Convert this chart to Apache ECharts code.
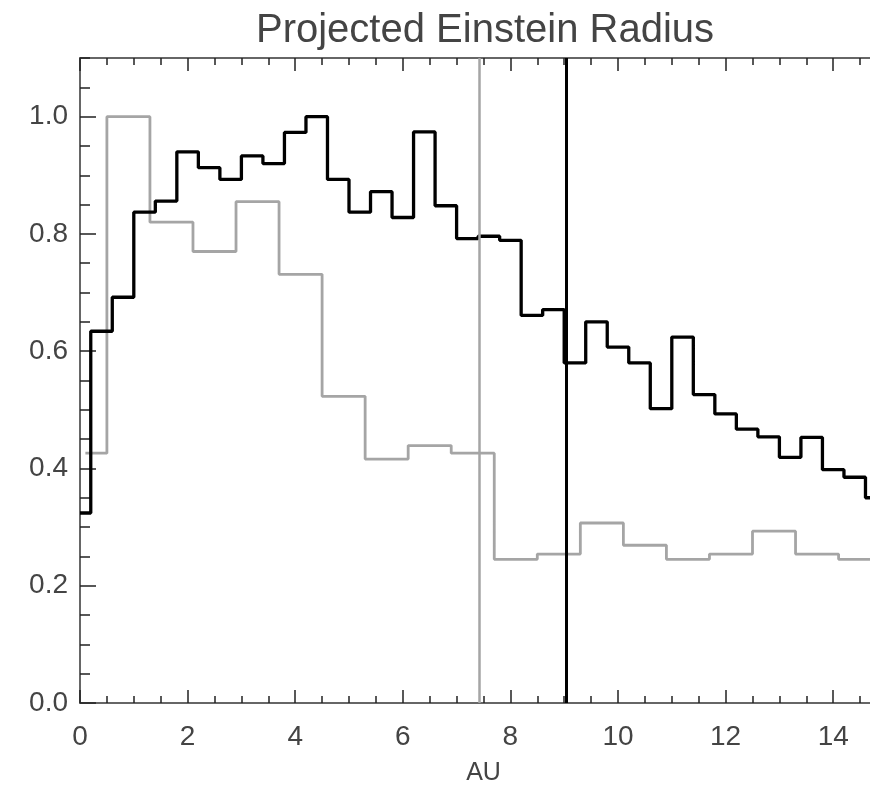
<!DOCTYPE html>
<html>
<head>
<meta charset="utf-8">
<script src="https://cdn.jsdelivr.net/npm/echarts@6/dist/echarts.min.js"></script>
<style>
  html, body { margin: 0; padding: 0; background: #ffffff; }
  #chart { width: 870px; height: 789px; }
</style>
</head>
<body>
<div id="chart"></div>
<script>
// Histogram of projected Einstein radius versus distance (AU), two samples
const titleText = 'Projected Einstein Radius';
const xAxisName = 'AU';

// Black histogram: bin centres (AU) and normalised values
const blackX = [0.0, 0.4, 0.8, 1.2, 1.6, 2.0, 2.4, 2.8, 3.2, 3.6,
                4.0, 4.4, 4.8, 5.2, 5.6, 6.0, 6.4, 6.8, 7.2, 7.6,
                8.0, 8.4, 8.8, 9.2, 9.6, 10.0, 10.4, 10.8, 11.2, 11.6,
                12.0, 12.4, 12.8, 13.2, 13.6, 14.0, 14.4, 14.8];
const blackY = [0.324, 0.634, 0.692, 0.837, 0.856, 0.940, 0.913, 0.893, 0.933, 0.920,
                0.973, 1.000, 0.893, 0.837, 0.872, 0.828, 0.974, 0.848, 0.792, 0.796,
                0.789, 0.661, 0.671, 0.580, 0.650, 0.607, 0.580, 0.502, 0.624, 0.526,
                0.493, 0.467, 0.454, 0.419, 0.453, 0.398, 0.385, 0.350];

// Grey histogram: bin centres (AU) and normalised values
const grayX = [0.1, 0.9, 1.7, 2.5, 3.3, 4.1, 4.9, 5.7, 6.5, 7.3,
               8.1, 8.9, 9.7, 10.5, 11.3, 12.1, 12.9, 13.7, 14.5, 15.3];
const grayY = [0.426, 1.000, 0.820, 0.770, 0.855, 0.731, 0.523, 0.416, 0.439, 0.426,
               0.245, 0.254, 0.307, 0.269, 0.245, 0.254, 0.293, 0.254, 0.245, 0.245];

// Vertical reference positions (AU)
const grayMarkerX = 7.43;
const blackMarkerX = 9.03;

// Axis ranges and tick spacing
const xMin = 0, xMax = 15, xMajor = 2, xMinor = 0.5;
const yMin = 0, yMax = 1.1, yMajor = 0.2, yMinor = 0.05;

const frameColor = '#666666';
const tickColor = '#222222';
const textColor = '#444444';
const fontFamily = 'Liberation Sans, Arial, sans-serif';

function pairs(xs, ys) { return xs.map((x, i) => [x, ys[i]]); }

function xAxisDef(position, major) {
  const labelled = major && position === 'bottom';
  return {
    type: 'value', gridIndex: 0, position: position,
    min: xMin, max: xMax, interval: major ? xMajor : xMinor,
    axisLine: { show: major, lineStyle: { color: frameColor, width: 2 } },
    axisTick: { show: true, inside: true, length: major ? 13 : 7,
                lineStyle: { color: tickColor, width: 1.5 } },
    axisLabel: labelled ? {
      show: true, margin: 20, fontSize: 28, color: textColor, fontFamily: fontFamily,
      showMaxLabel: false, formatter: v => String(Math.round(v))
    } : { show: false },
    splitLine: { show: false },
    name: labelled ? xAxisName : '',
    nameLocation: 'middle', nameGap: 58,
    nameTextStyle: { fontSize: 25, color: textColor, fontFamily: fontFamily }
  };
}

function yAxisDef(major) {
  return {
    type: 'value', gridIndex: 0, position: 'left',
    min: yMin, max: yMax, interval: major ? yMajor : yMinor,
    axisLine: { show: major, lineStyle: { color: frameColor, width: 2 } },
    axisTick: { show: true, inside: true, length: major ? 16 : 10,
                lineStyle: { color: tickColor, width: 1.5 } },
    axisLabel: major ? {
      show: true, margin: 12, fontSize: 28, color: textColor, fontFamily: fontFamily,
      showMaxLabel: false, formatter: v => v.toFixed(1)
    } : { show: false },
    splitLine: { show: false }
  };
}

const chart = echarts.init(document.getElementById('chart'), null, { renderer: 'canvas' });
chart.setOption({
  animation: false,
  backgroundColor: '#ffffff',
  title: {
    text: titleText, left: 480, top: 6, textAlign: 'center',
    textStyle: { fontSize: 40, fontWeight: 'normal', color: textColor, fontFamily: fontFamily }
  },
  grid: { left: 80, top: 58, width: 807, height: 645, containLabel: false, outerBoundsMode: 'none' },
  xAxis: [xAxisDef('bottom', true), xAxisDef('bottom', false),
          xAxisDef('top', true), xAxisDef('top', false)],
  yAxis: [yAxisDef(true), yAxisDef(false)],
  series: [
    {
      name: 'grey', type: 'line', step: 'middle', xAxisIndex: 0, yAxisIndex: 0,
      data: pairs(grayX, grayY), showSymbol: false, symbol: 'none',
      lineStyle: { color: '#a5a5a5', width: 2.8 },
      markLine: {
        silent: true, symbol: 'none', label: { show: false },
        lineStyle: { color: '#a5a5a5', width: 2.5, type: 'solid' },
        data: [{ xAxis: grayMarkerX }]
      }
    },
    {
      name: 'black', type: 'line', step: 'middle', xAxisIndex: 0, yAxisIndex: 0,
      data: pairs(blackX, blackY), showSymbol: false, symbol: 'none',
      lineStyle: { color: '#000000', width: 3.3 },
      markLine: {
        silent: true, symbol: 'none', label: { show: false },
        lineStyle: { color: '#000000', width: 3, type: 'solid' },
        data: [{ xAxis: blackMarkerX }]
      }
    }
  ]
});
</script>
</body>
</html>
